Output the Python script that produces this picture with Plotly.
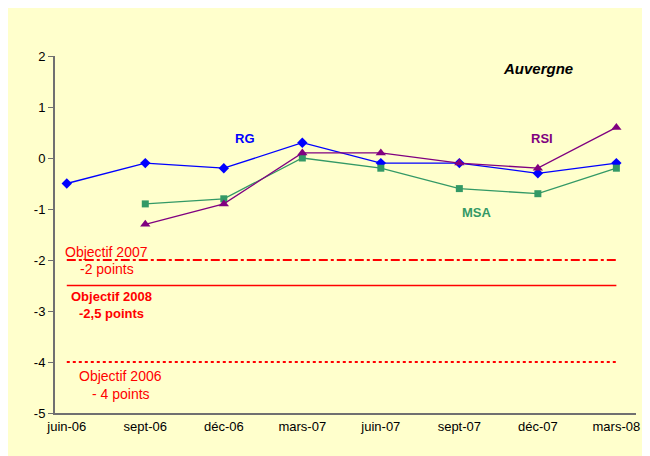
import plotly.graph_objects as go

mois = ["juin-06", "sept-06", "déc-06", "mars-07", "juin-07", "sept-07", "déc-07", "mars-08"]
rg = [-0.5, -0.1, -0.2, 0.3, -0.1, -0.1, -0.3, -0.1]
msa = [None, -0.9, -0.8, 0.0, -0.2, -0.6, -0.7, -0.2]
rsi = [None, -1.3, -0.9, 0.1, 0.1, -0.1, -0.2, 0.6]
y_ticks = [2, 1, 0, -1, -2, -3, -4, -5]
objectifs = [(-2, "dashdot", 2), (-2.5, "solid", 1.5), (-4, "dot", 2)]

fig = go.Figure()

fig.add_trace(go.Scatter(x=mois, y=rg, mode="lines+markers", name="RG",
                         line=dict(color="#0000FF", width=1.3),
                         marker=dict(symbol="diamond", size=8, color="#0000FF")))
fig.add_trace(go.Scatter(x=mois, y=msa, mode="lines+markers", name="MSA",
                         line=dict(color="#339966", width=1.3),
                         marker=dict(symbol="square", size=7, color="#339966")))
fig.add_trace(go.Scatter(x=mois, y=rsi, mode="lines+markers", name="RSI",
                         line=dict(color="#800080", width=1.3),
                         marker=dict(symbol="triangle-up", size=9, color="#800080")))

# lignes d'objectif
for val, style, w in objectifs:
    fig.add_shape(type="line", xref="x", yref="y", x0=0, x1=7, y0=val, y1=val,
                  line=dict(color="#FF0000", width=w, dash=style))

red = "#FF0000"
ann = [
    ("Objectif 2007", 0.51, -1.84, False),
    ("-2 points", 0.51, -2.18, False),
    ("Objectif 2008", 0.57, -2.71, True),
    ("-2,5 points", 0.57, -3.04, True),
    ("Objectif 2006", 0.69, -4.27, False),
    ("- 4 points", 0.69, -4.63, False),
]
for txt, x, y, b in ann:
    fig.add_annotation(x=x, y=y, xref="x", yref="y", text=f"<b>{txt}</b>" if b else txt,
                       showarrow=False, font=dict(color=red, size=13 if b else 14))

fig.add_annotation(x=2.27, y=0.39, xref="x", yref="y", text="<b>RG</b>", showarrow=False,
                   font=dict(color="#0000FF", size=13))
fig.add_annotation(x=6.05, y=0.39, xref="x", yref="y", text="<b>RSI</b>", showarrow=False,
                   font=dict(color="#800080", size=13))
fig.add_annotation(x=5.23, y=-1.06, xref="x", yref="y", text="<b>MSA</b>", showarrow=False,
                   font=dict(color="#339966", size=13))
fig.add_annotation(x=6.0, y=1.76, xref="x", yref="y", text="<b><i>Auvergne</i></b>",
                   showarrow=False, font=dict(color="black", size=15))

fig.update_xaxes(type="category", categoryorder="array", categoryarray=mois,
                 range=[-0.15, 7.25], showline=True, linecolor="#707070", linewidth=2,
                 showgrid=False, ticks="", tickfont=dict(size=13, color="black"))
fig.update_yaxes(range=[-5, 2], tickvals=y_ticks, ticktext=[str(v) for v in y_ticks],
                 showline=True, linecolor="#707070", linewidth=2,
                 showgrid=False, zeroline=False, ticks="outside", ticklen=5,
                 tickcolor="#707070", tickfont=dict(size=13, color="black"))

fig.update_layout(
    width=642, height=448,
    margin=dict(l=47, r=10, t=48, b=43),
    paper_bgcolor="#FFFFCC",
    plot_bgcolor="rgba(0,0,0,0)",
    showlegend=False,
    font=dict(family="Liberation Sans, Arial", size=12),
)

fig.write_html("out.html")
